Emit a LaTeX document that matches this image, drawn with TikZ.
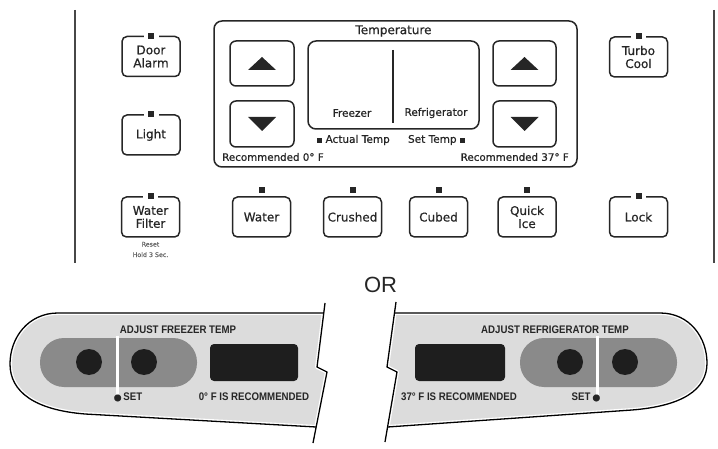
\documentclass[tikz,border=0pt]{standalone}
\usepackage{fontspec}
\newfontfamily\topfont{DejaVu Sans}[FakeBold=0.7]
\newfontfamily\orfont{Liberation Sans}
\newfontfamily\condfont{Liberation Sans}[FakeStretch=0.88]
\definecolor{ink}{HTML}{262626}
\definecolor{panelgray}{HTML}{DCDCDC}
\definecolor{pillgray}{HTML}{8A8A8A}
\definecolor{darkfill}{HTML}{1E1E1E}
\tikzset{
  btn/.style={draw=ink, line width=1.5pt, rounded corners=5pt, minimum width=58pt,
    minimum height=40pt, inner sep=0pt, align=center, text=ink,
    font=\topfont\fontsize{12}{13}\selectfont},
  led/.style={fill=ink, minimum size=6pt, inner sep=0pt},
  ledgap/.style={fill=white, minimum width=15pt, minimum height=5pt, inner sep=0pt},
  frame/.style={draw=ink, line width=1.5pt, rounded corners=7pt, inner sep=0pt},
  lbl/.style={text=ink, inner sep=0pt, font=\topfont\fontsize{10.5}{12}\selectfont},
  blbl/.style={text=ink, inner sep=0pt, font=\condfont\bfseries\fontsize{11}{12}\selectfont},
  pill/.style={fill=pillgray, rounded corners=24pt},
  disp/.style={fill=darkfill, rounded corners=4pt},
  knob/.style={fill=darkfill},
  outline/.style={draw=black, line width=1.3pt, line join=round},
}
\begin{document}
\begin{tikzpicture}[x=1pt,y=-1pt]
\useasboundingbox (0,0) rectangle (718,449);
% side lines of the upper panel
\draw[ink!85, line width=1.6pt] (75,10) -- (75,263);
\draw[ink!85, line width=1.6pt] (714,10) -- (714,263);

% side buttons with indicator in the border
\node[btn] (door) at (151,56.5) {Door\\Alarm};
\node[ledgap] (doorg) at (door.north) {};
\node[led] (doorl) at (door.north) {};
\node[btn] (light) at (151,135) {Light};
\node[ledgap] (lightg) at (light.north) {};
\node[led] (lightl) at (light.north) {};
\node[btn] (turbo) at (638.5,57) {Turbo\\Cool};
\node[ledgap] (turbog) at (turbo.north) {};
\node[led] (turbol) at (turbo.north) {};
\node[btn] (filter) at (150.5,217) {Water\\Filter};
\node[ledgap] (filterg) at (filter.north) {};
\node[led] (filterl) at (filter.north) {};
\node[btn] (lock) at (638.5,217) {Lock};
\node[ledgap] (lockg) at (lock.north) {};
\node[led] (lockl) at (lock.north) {};
\node[text=ink!70, align=center, inner sep=0pt, font=\topfont\fontsize{6.3}{10.5}\selectfont] (reset) at (150.5,249.5) {Reset\\Hold 3 Sec.};

% dispenser buttons with detached indicator
\node[btn] (water) at (261.5,217) {Water};
\node[led] (waterl) at (261.5,190) {};
\node[btn] (crushed) at (352.5,217) {Crushed};
\node[led] (crushedl) at (352.5,190) {};
\node[btn] (cubed) at (438.5,217) {Cubed};
\node[led] (cubedl) at (438.5,190) {};
\node[btn] (quick) at (527,217) {Quick\\Ice};
\node[led] (quickl) at (527,190) {};

% temperature block
\node[frame, rounded corners=8pt, minimum width=363pt, minimum height=146pt] (tbox) at (395.5,94) {};
\node[lbl, font=\topfont\fontsize{12}{13}\selectfont] (ttl) at (393.5,31) {Temperature};
\node[frame, rounded corners=6pt, minimum width=64pt, minimum height=45pt] (fu) at (262,63.5) {};
\node[frame, rounded corners=6pt, minimum width=64pt, minimum height=46pt] (fd) at (262,124) {};
\node[frame, rounded corners=6pt, minimum width=63pt, minimum height=45pt] (ru) at (524.5,63.5) {};
\node[frame, rounded corners=6pt, minimum width=63pt, minimum height=46pt] (rd) at (524.5,124) {};
\fill[ink, shift={(fu.center)}] (-14,6.5) -- (14,6.5) -- (0,-6.5) -- cycle;
\fill[ink, shift={(ru.center)}] (-14,6.5) -- (14,6.5) -- (0,-6.5) -- cycle;
\fill[ink, shift={(fd.center)}] (-14,-7) -- (14,-7) -- (0,7) -- cycle;
\fill[ink, shift={(rd.center)}] (-14,-7) -- (14,-7) -- (0,7) -- cycle;
\node[frame, rounded corners=8pt, minimum width=171pt, minimum height=88pt] (disp) at (393.5,85) {};
\draw[ink, line width=2pt] (393,50) -- (393,123);
\node[lbl] (frz) at (352,113) {Freezer};
\node[lbl] (ref) at (436,113) {Refrigerator};
\node[lbl] (act) at (353.5,140) {\rule{5pt}{5pt} Actual Temp};
\node[lbl] (set) at (436.5,140) {Set Temp \rule{5pt}{5pt}};
\node[lbl, anchor=west, font=\topfont\fontsize{10.3}{12}\selectfont] (rec0) at (222,157) {Recommended 0° F};
\node[lbl, anchor=east, font=\topfont\fontsize{10.3}{12}\selectfont] (rec37) at (569,157) {Recommended 37° F};

% OR
\node[text=ink, inner sep=0pt, font=\orfont\fontsize{22}{24}\selectfont] (or) at (380.5,285) {OR};

% ---- left lower panel ----
\fill[panelgray] (323.75,313) -- (58,313) .. controls (28,313) and (10,338) .. (10,364)
  .. controls (10,392) and (35,410) .. (85,414) -- (316.2,427) -- (327,372) -- (317,367) -- cycle;
\draw[white, line width=4pt, line join=round] (323.75,313) -- (58,313) .. controls (28,313) and (10,338) .. (10,364)
  .. controls (10,392) and (35,410) .. (85,414) -- (316.2,427) -- (327,372) -- (317,367) -- cycle;
\draw[outline] (323.75,313) -- (58,313) .. controls (28,313) and (10,338) .. (10,364)
  .. controls (10,392) and (35,410) .. (85,414) -- (316.2,427);
\draw[black, line width=1.3pt, line join=miter] (325,303) -- (317,367) -- (327,372) -- (313,443);
\fill[pill] (40,338) rectangle (197,387);
\draw[white, line width=3pt] (117,336) -- (117,395);
\fill[knob] (89,362) circle (13);
\fill[knob] (144,362) circle (13);
\fill[disp] (210,344) rectangle (298,381);
\node[blbl] (adjf) at (178,330) {ADJUST FREEZER TEMP};
\node[blbl] (setl) at (128,397) {{\topfont\fontsize{9}{10}\selectfont ●}\,SET};
\node[blbl] (recf) at (254,397) {0° F IS RECOMMENDED};

% ---- right lower panel ----
\fill[panelgray] (394.5,313) -- (660,313) .. controls (690,313) and (707,338) .. (707,363)
  .. controls (707,390) and (682,406) .. (632,410) -- (387.6,427) -- (397,372) -- (387,367) -- cycle;
\draw[white, line width=4pt, line join=round] (394.5,313) -- (660,313) .. controls (690,313) and (707,338) .. (707,363)
  .. controls (707,390) and (682,406) .. (632,410) -- (387.6,427) -- (397,372) -- (387,367) -- cycle;
\draw[outline] (394.5,313) -- (660,313) .. controls (690,313) and (707,338) .. (707,363)
  .. controls (707,390) and (682,406) .. (632,410) -- (387.6,427);
\draw[black, line width=1.3pt, line join=miter] (396,302) -- (387,367) -- (397,372) -- (385,442);
\fill[pill] (520,338) rectangle (677,387);
\draw[white, line width=3pt] (597,336) -- (597,395);
\fill[knob] (570,362) circle (13);
\fill[knob] (625,362) circle (13);
\fill[disp] (415,344) rectangle (505,381);
\node[blbl] (adjr) at (555,330) {ADJUST REFRIGERATOR TEMP};
\node[blbl] (setr) at (586,397) {SET\,{\topfont\fontsize{9}{10}\selectfont ●}};
\node[blbl] (recr) at (459,397) {37° F IS RECOMMENDED};
\end{tikzpicture}
\end{document}
